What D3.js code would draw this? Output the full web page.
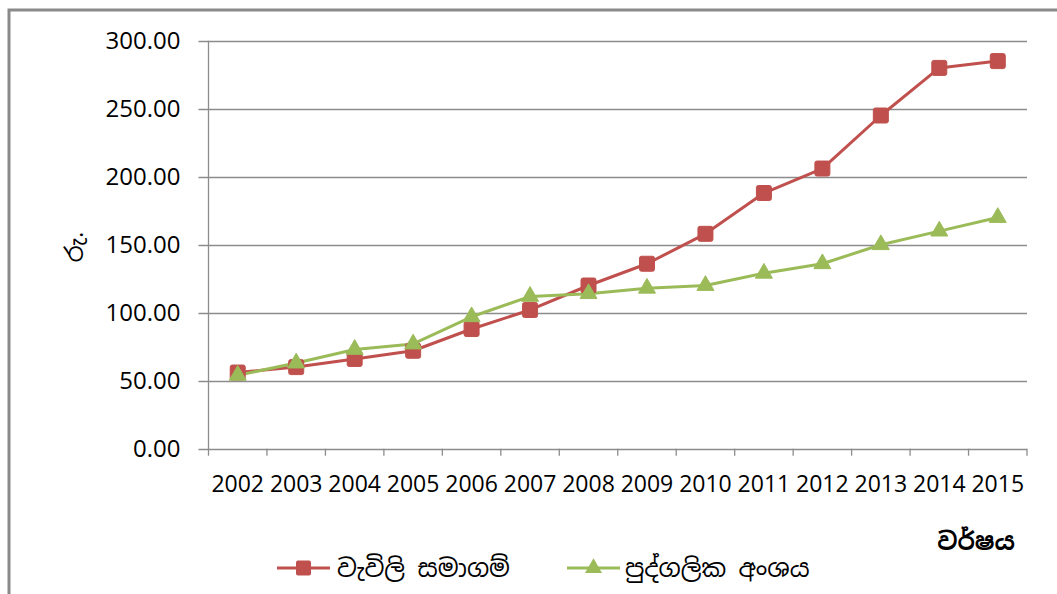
<!DOCTYPE html>
<html><head><meta charset="utf-8">
<script src="https://cdn.jsdelivr.net/npm/d3@7"></script>
<style>
html,body{margin:0;padding:0;background:#fff;}
svg{display:block;}
text{font-family:"Open Sans","Noto Sans",sans-serif;fill:#000;}
.si{font-family:"Noto Sans Sinhala","Iskoola Pota","Noto Sans","DejaVu Sans",sans-serif;}
</style></head>
<body>
<svg id="chart" width="1057" height="594"></svg>
<script>
const years = ["2002","2003","2004","2005","2006","2007","2008","2009","2010","2011","2012","2013","2014","2015"];
const plantationValues = [56,60,66,72,88,102,120,136,158,188,206,245,280,285];
const privateValues = [54,63,73,77,97,112,114,118,120,129,136,150,160,170];
const yTicks = [0,50,100,150,200,250,300];
const seriesNames = ["වැවිලි සමාගම්","පුද්ගලික අංශය"];
const yTitle = "රු.";
const xTitle = "වර්ෂය";

const svg = d3.select("#chart");
const red = "#C0504D", green = "#9BBB59", grid = "#8C8C8C";

// outer frame
svg.append("path").attr("d","M9,600 L9,10 L1070,10").attr("fill","none").attr("stroke","#8A8A8A").attr("stroke-width",3);

const L = 208.5, R = 1027, T = 40.7, B = 448.7;
const x = d3.scaleBand().domain(years).range([L,R]);
const y = d3.scaleLinear().domain([0,300]).range([B,T]);

// gridlines
svg.append("g").selectAll("line").data(yTicks).join("line")
  .attr("x1",L-10).attr("x2",R).attr("y1",d=>Math.round(y(d))+0.5).attr("y2",d=>Math.round(y(d))+0.5)
  .attr("stroke",grid).attr("stroke-width",1.3);

// y axis line
svg.append("line").attr("x1",L).attr("x2",L).attr("y1",T).attr("y2",B+1).attr("stroke",grid).attr("stroke-width",1.3);

// y labels
svg.append("g").selectAll("text").data(yTicks).join("text")
  .attr("x",L-28).attr("y",d=>y(d)).attr("dy","0.36em").attr("text-anchor","end")
  .attr("font-size",24).text(d=>d.toFixed(2));

// x ticks at category boundaries
const bounds = years.map(d=>x(d)).concat([R]);
svg.append("g").selectAll("line").data(bounds).join("line")
  .attr("x1",d=>d).attr("x2",d=>d).attr("y1",B).attr("y2",B+7)
  .attr("stroke",grid).attr("stroke-width",1.3);

// x labels
svg.append("g").selectAll("text").data(years).join("text")
  .attr("x",d=>x(d)+x.bandwidth()/2).attr("y",492).attr("text-anchor","middle")
  .attr("font-size",23).text(d=>d);

// lines
const cx = d=>x(d)+x.bandwidth()/2;
const line = d3.line().x((d,i)=>cx(years[i])).y(d=>y(d));
svg.append("path").datum(plantationValues).attr("d",line).attr("fill","none").attr("stroke",red).attr("stroke-width",3).attr("stroke-linejoin","round");
svg.append("path").datum(privateValues).attr("d",line).attr("fill","none").attr("stroke",green).attr("stroke-width",3).attr("stroke-linejoin","round");

const sq = 15;
svg.append("g").selectAll("rect").data(plantationValues).join("rect")
  .attr("x",(d,i)=>cx(years[i])-sq/2).attr("y",d=>y(d)-sq/2).attr("width",sq).attr("height",sq)
  .attr("rx",2).attr("fill",red).attr("stroke",red).attr("stroke-width",1);
const tri = d3.symbol().type(d3.symbolTriangle).size(125);
svg.append("g").selectAll("path").data(privateValues).join("path")
  .attr("transform",(d,i)=>`translate(${cx(years[i])},${y(d)})`).attr("d",tri)
  .attr("fill",green).attr("stroke",green).attr("stroke-width",1);

// y title
svg.append("text").attr("class","si").attr("transform","translate(83,247) rotate(-90)")
  .attr("text-anchor","middle").attr("font-size",24).text(yTitle);

// x title
svg.append("text").attr("class","si").attr("x",1015).attr("y",550).attr("text-anchor","end")
  .attr("font-size",24).attr("font-weight","bold").text(xTitle);

// legend
const lg = svg.append("g");
const legendItems = [
  {name:seriesNames[0], color:red, x0:277, tx:337, shape:"sq"},
  {name:seriesNames[1], color:green, x0:567, tx:625, shape:"tri"}
];
const ly = 568;
legendItems.forEach(it=>{
  lg.append("line").attr("x1",it.x0).attr("x2",it.x0+53).attr("y1",ly).attr("y2",ly).attr("stroke",it.color).attr("stroke-width",3);
  if(it.shape==="sq"){
    lg.append("rect").attr("x",it.x0+26.5-sq/2).attr("y",ly-sq/2).attr("width",sq).attr("height",sq).attr("rx",2).attr("fill",it.color);
  } else {
    lg.append("path").attr("transform",`translate(${it.x0+26.5},${ly})`).attr("d",tri).attr("fill",it.color);
  }
  lg.append("text").attr("class","si").attr("x",it.tx).attr("y",ly).attr("dy","0.35em").attr("font-size",24.5).text(it.name);
});
</script>
</body></html>
